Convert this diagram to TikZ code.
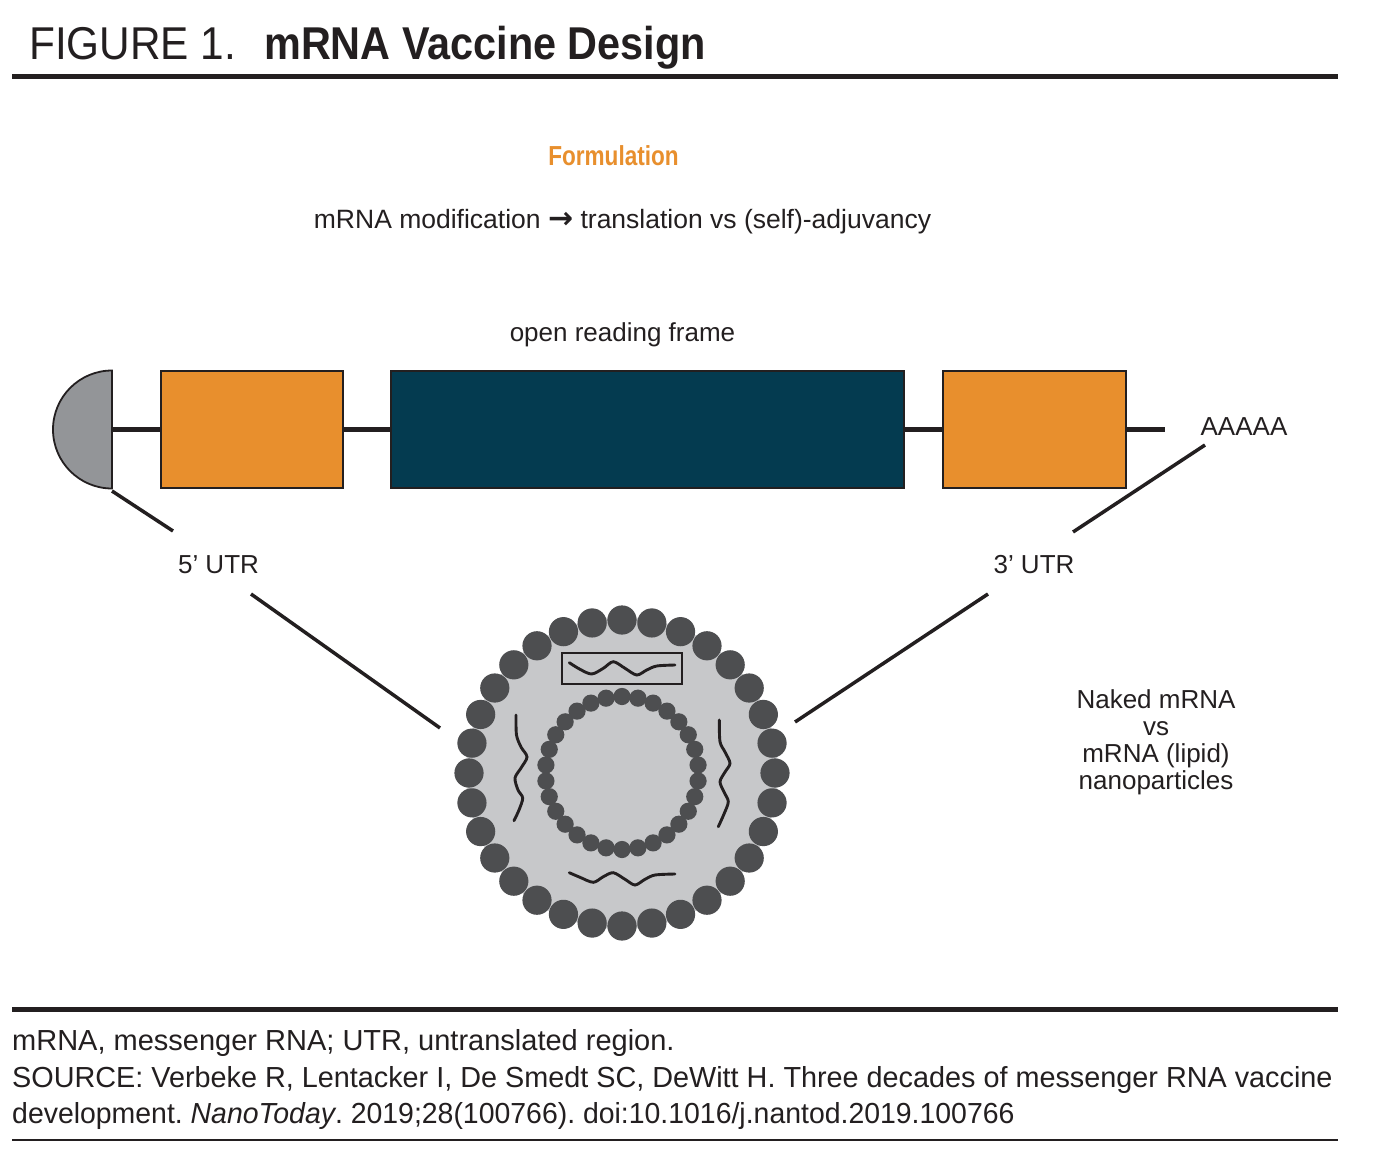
\documentclass[tikz,border=0pt]{standalone}
\usepackage{fontspec}
\usepackage{graphicx}
\setmainfont{Liberation Sans}
\newfontfamily\figfont{Liberation Sans}[FakeStretch=0.92]
\newfontfamily\titlefont{Liberation Sans}[FakeStretch=0.82]
\newfontfamily\headfont{Liberation Sans}[FakeStretch=0.9]
\newfontfamily\symfont{DejaVu Sans}
\definecolor{ink}{HTML}{231F20}
\definecolor{orangeC}{HTML}{E88F2D}
\definecolor{tealC}{HTML}{043B50}
\definecolor{capC}{HTML}{939598}
\definecolor{npC}{HTML}{C7C8CA}
\definecolor{dotC}{HTML}{4D4E50}
\tikzset{
  lbl/.style={font=\fontsize{26}{28}\selectfont, text=ink, inner sep=0pt, anchor=base},
  foot/.style={font=\fontsize{29}{31}\selectfont, text=ink, inner sep=0pt, anchor=base west},
  utrbox/.style={draw=ink, line width=2pt, fill=orangeC, minimum height=117pt, inner sep=0pt},
  orfbox/.style={draw=ink, line width=2pt, fill=tealC, minimum height=117pt, inner sep=0pt},
  backbone/.style={draw=ink, line width=5pt},
  pointer/.style={draw=ink, line width=3.5pt},
  thickrule/.style={draw=ink, line width=5pt},
  thinrule/.style={draw=ink, line width=1.5pt},
  wave/.style={draw=ink, line width=2.9pt, line cap=round},
}
\begin{document}
\frenchspacing
\begin{tikzpicture}[x=1pt,y=-1pt]
\useasboundingbox (0,0) rectangle (1382,1154);
\fill[white] (0,0) rectangle (1382,1154);

% title
\node[font=\figfont\fontsize{46}{48}\selectfont, text=ink, inner sep=0pt, anchor=base west] (fig) at (29,59) {FIGURE 1.};
\node[font=\headfont\bfseries\fontsize{46}{48}\selectfont, text=ink, inner sep=0pt, anchor=base west] (title) at (264,59) {mRNA Vaccine Design};
\coordinate (r1a) at (12,76);
\coordinate (r1b) at (1338,76);
\draw[thickrule] (r1a) -- (r1b);

% formulation
\node[font=\titlefont\bfseries\fontsize{27.5}{29}\selectfont, text=orangeC, inner sep=0pt, anchor=base] (form) at (613.5,165) {Formulation};
\node[lbl, font=\fontsize{26.5}{28}\selectfont] (mod) at (622.5,228) {mRNA modification {\symfont\bfseries\fontsize{30}{30}\selectfont →} translation vs (self)-adjuvancy};

% mRNA construct
\node[lbl] (orflbl) at (622.5,341) {open reading frame};
\coordinate (capflat) at (112,429.5);
\coordinate (capbot) at (112,491);
\fill[capC, draw=ink, line width=1.8pt] (112,370.5) arc[start angle=-90, end angle=-270, radius=59] -- cycle;
\node[utrbox, minimum width=182pt] (u5) at (252,429.5) {};
\node[orfbox, minimum width=513pt] (orf) at (647.5,429.5) {};
\node[utrbox, minimum width=183pt] (u3) at (1034.5,429.5) {};
\coordinate (tail) at (1165,429.5);
\draw[backbone] (capflat) -- (u5.west);
\draw[backbone] (u5.east) -- (orf.west);
\draw[backbone] (orf.east) -- (u3.west);
\draw[backbone] (u3.east) -- (tail);
\node[lbl] (polyA) at (1244,435) {AAAAA};

% UTR labels and pointers
\node[lbl] (utr5) at (218.5,573) {5’ UTR};
\node[lbl] (utr3) at (1034,573) {3’ UTR};
\coordinate (p5a) at (173,531);
\coordinate (p5b) at (251,594);
\coordinate (npL) at (440,728);
\coordinate (pA) at (1205,445);
\coordinate (p3a) at (1073,532);
\coordinate (p3b) at (988,594);
\coordinate (npR) at (795,722);
\draw[pointer] (capbot) -- (p5a);
\draw[pointer] (p5b) -- (npL);
\draw[pointer] (pA) -- (p3a);
\draw[pointer] (p3b) -- (npR);

% nanoparticle
\coordinate (np) at (622,773);
\fill[npC] (np) circle[radius=156];
\foreach \i in {0,...,31} {
  \fill[dotC] (np) ++(90+\i*11.25:153) circle[radius=14.6];
}
\foreach \i in {0,...,29} {
  \fill[dotC] (np) ++(90+\i*12:76.5) circle[radius=8.6];
}
\node[draw=ink, line width=1.2pt, minimum width=120pt, minimum height=31pt, inner sep=0pt] (mbox) at (622,668.5) {};
\draw[wave] plot[smooth] coordinates {(569.3,662.7) (580,669.3) (591.7,674) (603.3,668.3) (613.3,661.7) (625,668.3) (636.7,675) (646.7,670) (656.7,666) (675,665)};
\draw[wave] plot[smooth] coordinates {(569.3,872.7) (580,877.3) (593.3,882.3) (603.3,876.7) (613.3,872.7) (625,879.3) (635,885) (645,879.3) (655,875) (675,874)};
\draw[wave] plot[smooth] coordinates {(516,715) (516.5,735) (521,747) (527,757) (521,768) (515,778) (518,790) (522.7,798) (519,810) (514,820.7)};
\draw[wave] plot[smooth] coordinates {(719.3,720) (720,741.7) (725,752) (730,763.3) (725,772) (720,781.7) (724,792) (728.3,801.7) (724,814) (718.3,826.7)};

% right text
\node[lbl] (nk1) at (1156,708) {Naked mRNA};
\node[lbl] (nk2) at (1156,735) {vs};
\node[lbl] (nk3) at (1156,762) {mRNA (lipid)};
\node[lbl] (nk4) at (1156,789) {nanoparticles};

% footer
\coordinate (r2a) at (12,1009.5);
\coordinate (r2b) at (1338,1009.5);
\draw[thickrule] (r2a) -- (r2b);
\node[foot] (f1) at (12,1050) {mRNA, messenger RNA; UTR, untranslated region.};
\node[foot] (f2) at (12,1087) {\scalebox{0.993}[1]{SOURCE: Verbeke R, Lentacker I, De Smedt SC, DeWitt H. Three decades of messenger RNA vaccine}};
\node[foot] (f3) at (12,1123) {\scalebox{0.98}[1]{development. \textit{NanoToday}. 2019;28(100766). doi:10.1016/j.nantod.2019.100766}};
\coordinate (r3a) at (12,1140);
\coordinate (r3b) at (1338,1140);
\draw[thinrule] (r3a) -- (r3b);
\end{tikzpicture}
\end{document}
